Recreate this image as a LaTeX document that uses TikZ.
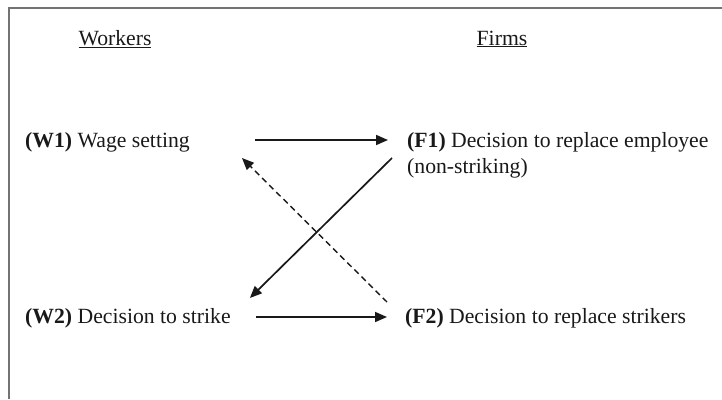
\documentclass[tikz,border=0pt]{standalone}
\usepackage{fontspec}
\setmainfont{Liberation Serif}
\usetikzlibrary{arrows.meta}

\begin{document}
\begin{tikzpicture}[x=1pt,y=-1pt]
\useasboundingbox (0,0) rectangle (722,399);
\draw [line width=2pt,black!55] (9,399) -- (9,8) -- (722,8);
\begin{scope}[every node/.style={inner sep=0pt,text=black!90,
              font=\fontsize{21.7}{26}\selectfont}]
    \node [anchor=base] (WK) at (115,45) {\underline{Workers}};
    \node [anchor=base] (FM) at (502,45) {\underline{Firms}};
    \node [anchor=base west] (W1) at (25,147) {\textbf{(W1)} Wage setting};
    \node [anchor=north west,align=left] (F1) at (407,132)
        {\textbf{(F1)} Decision to replace employee\\(non-striking)};
    \node [anchor=base west] (W2) at (25,323) {\textbf{(W2)} Decision to strike};
    \node [anchor=base west] (F2) at (405,323) {\textbf{(F2)} Decision to replace strikers};
\end{scope}
\begin{scope}[>={Triangle[length=12pt,width=10pt]},
              every edge/.style={draw=black!90,line width=1.7pt}]
    \path [->] ([yshift=7pt]W1.base east) edge [shorten <=65pt,shorten >=19pt] ([yshift=7pt]W1.base east -| F1.west);
    \path [->] ([yshift=6pt]W2.base east) edge [shorten <=25pt,shorten >=18pt] ([yshift=6pt]W2.base east -| F2.west);
    \path [->] ([shift={(-15pt,-26pt)}]F1.north west) edge ([shift={(19pt,25pt)}]W2.base east);
\end{scope}
\begin{scope}[>={Triangle[length=12pt,width=10pt]},
              every edge/.style={draw=black!90,line width=1.4pt,dash pattern=on 6pt off 4pt}]
    \path [->] ([shift={(-18pt,21pt)}]F2.base west) edge ([shift={(52pt,-11pt)}]W1.base east);
\end{scope}
\end{tikzpicture}
\end{document}
